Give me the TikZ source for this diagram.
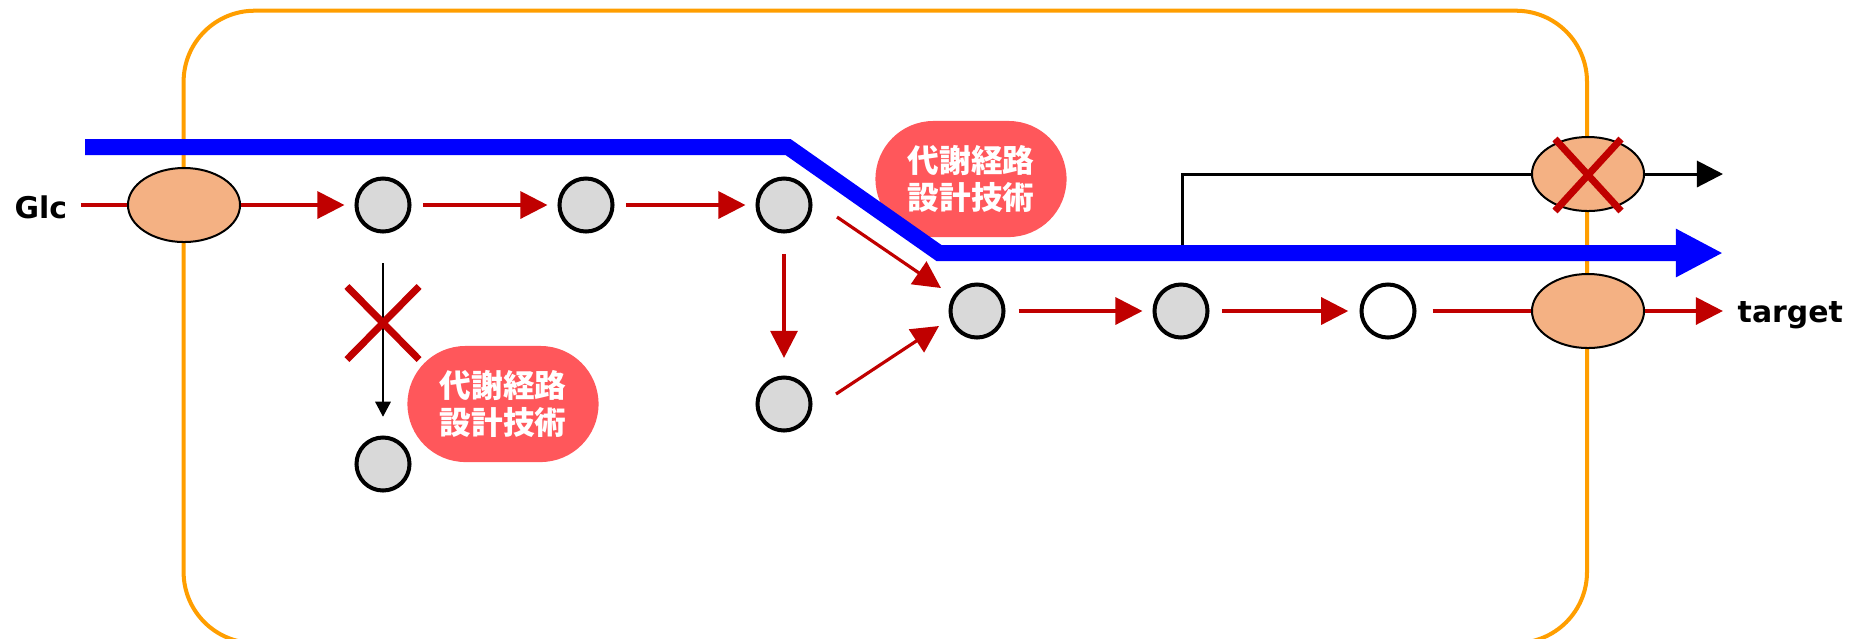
\documentclass[tikz,border=0pt]{standalone}
\usepackage{fontspec}
\setmainfont{DejaVu Sans}
\newfontfamily\jpfont{Noto Sans CJK JP}
\usetikzlibrary{arrows.meta,shapes.geometric,shapes.misc,calc}
\definecolor{boxorange}{RGB}{255,158,0}
\definecolor{arrred}{RGB}{192,0,0}
\definecolor{peach}{RGB}{244,177,131}
\definecolor{nodegray}{RGB}{217,217,217}
\definecolor{pillred}{RGB}{255,87,91}
\definecolor{pathblue}{RGB}{0,0,255}
\begin{document}
\begin{tikzpicture}[x=0.01cm,y=-0.01cm,
  metab/.style={circle, draw=black, line width=1.14pt, fill=nodegray, minimum size=0.53cm, inner sep=0pt},
  metabw/.style={metab, fill=white},
  trans/.style={ellipse, draw=black, line width=0.57pt, fill=peach, minimum width=1.12cm, minimum height=0.74cm, inner sep=0pt},
  pill/.style={rectangle, rounded corners=0.58cm, fill=pillred, minimum width=1.91cm, minimum height=1.16cm, text=white, font=\jpfont\bfseries\fontsize{9}{10.4}\selectfont, align=center, inner sep=0pt},
  redarrow/.style={draw=arrred, line width=0.9pt, -{Triangle[length=7.7pt,width=7.7pt]}},
  redline/.style={draw=arrred, line width=0.9pt},
  blackarrow/.style={draw=black, line width=0.8pt, -{Triangle[length=4.3pt,width=4.3pt]}},
  bigblackarrow/.style={draw=black, line width=0.85pt, -{Triangle[length=7.4pt,width=7.4pt]}},
  blackline/.style={draw=black, line width=0.85pt},
  bluepath/.style={draw=pathblue, line width=4.55pt, -{Triangle[length=13.4pt,width=12.8pt]}},
  lbl/.style={font=\bfseries\fontsize{8.5}{10}\selectfont, inner sep=0pt},
  knock/.style={cross out, draw=arrred, line width=2pt, inner sep=0pt, outer sep=0pt},
  cellbox/.style={draw=boxorange, line width=1.14pt, rounded corners=0.71cm}
]
\useasboundingbox (0,0) rectangle (1857,638);
\clip (0,0) rectangle (1857,638);

% cell membrane
\draw[cellbox] (183.6,10.7) rectangle (1587,643);

% technology labels
\node[pill] (P1) at (503,404) {代謝経路\\設計技術};
\node[pill] (P2) at (971,179) {代謝経路\\設計技術};

% transporters
\node[trans] (E1) at (184,205) {};
\node[trans] (E2) at (1588,311) {};
\node[trans] (E3) at (1588,174) {};

% metabolites
\node[metab] (C1) at (383,205) {};
\node[metab] (C2) at (586,205) {};
\node[metab] (C3) at (784,205) {};
\node[metab] (L1) at (383,464) {};
\node[metab] (L2) at (784,404) {};
\node[metab] (C4) at (977,311) {};
\node[metab] (C5) at (1181,311) {};
\node[metabw] (C6) at (1388,311) {};

% labels
\node[lbl, anchor=base west] (Glc) at (14,218) {Glc};
\node[lbl, anchor=base west] (target) at (1737,322) {target};

% branch to by-product
\coordinate (br) at (1182,253);
\coordinate (bout) at (1723,174);
\draw[blackline] (br) |- (E3.west);
\draw[bigblackarrow] (E3.east) -- (bout);

% blue designed pathway
\coordinate (b0) at (85,147);
\coordinate (b1) at (788,147);
\coordinate (b2) at (939,253);
\coordinate (b3) at (1723,253);
\draw[bluepath] (b0) -- (b1) -- (b2) -- (b3);

% red main flow
\draw[redline, shorten <=3.7pt] (E1.west -| Glc.east) -- (E1.west);
\draw[redarrow, shorten >=2.85pt] (E1.east) -- (C1.west);
\draw[redarrow, shorten <=3.2pt, shorten >=2.85pt] (C1) -- (C2);
\draw[redarrow, shorten <=3.2pt, shorten >=2.85pt] (C2) -- (C3);
\draw[redarrow, shorten <=5.8pt, shorten >=5pt] (C3) -- (L2);
\draw[redarrow] ($(C3)+(53,12)$) -- ($(C4)+(-36,-23)$);
\draw[redarrow] ($(L2)+(52,-10)$) -- ($(C4)+(-38,15)$);
\draw[redarrow, shorten <=3.7pt, shorten >=2.85pt] (C4) -- (C5);
\draw[redarrow, shorten <=3.5pt, shorten >=3.2pt] (C5) -- (C6);
\draw[redline, shorten <=4.55pt] (C6) -- (E2.west);
\draw[redarrow, shorten >=4pt] (E2.east) -- (E2.east -| target.west);

% blocked side reaction
\draw[blackarrow, shorten <=8.4pt, shorten >=5.3pt] (C1) -- (L1);

% knockouts
\node[knock, minimum width=0.72cm, minimum height=0.73cm] (X1) at (383,323) {};
\node[knock, minimum width=0.66cm, minimum height=0.72cm] (X2) at (1588,175) {};
\end{tikzpicture}
\end{document}
